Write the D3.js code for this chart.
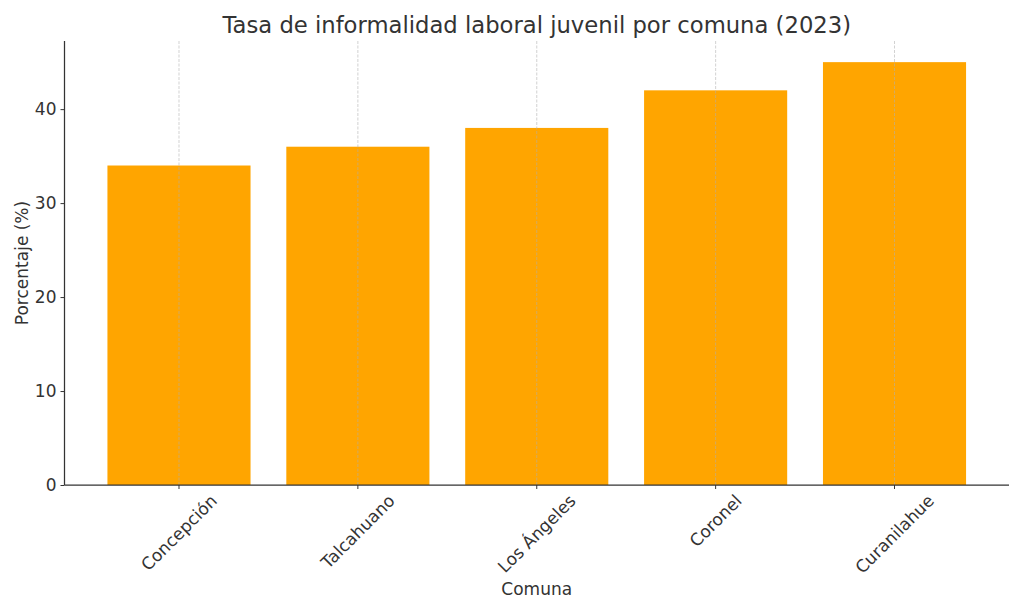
<!DOCTYPE html>
<html><head><meta charset="utf-8">
<script src="https://d3js.org/d3.v7.min.js"></script>
<style>body{margin:0;background:#fff}text{font-family:"DejaVu Sans",sans-serif;fill:#333}</style>
</head><body>
<svg id="c" width="1024" height="614"></svg>
<script>
const categories = ["Concepción","Talcahuano","Los Ángeles","Coronel","Curanilahue"];
const values = [34, 36, 38, 42, 45];
const yTicks = [0, 10, 20, 30, 40];
const title = "Tasa de informalidad laboral juvenil por comuna (2023)";
const xLabel = "Comuna";
const yLabel = "Porcentaje (%)";

const svg = d3.select("#c");
const L = 64.5, R = 1009, T = 41, B = 485;
const FS = 17;
const x = d3.scaleLinear().domain([-0.64, categories.length - 1 + 0.64]).range([L, R]);
const y = d3.scaleLinear().domain([0, d3.max(values) * 1.05]).range([B, T]);
const bw = x(0.8) - x(0);

svg.selectAll("rect.bar").data(values).join("rect").attr("class","bar")
  .attr("x", (d,i) => x(i) - bw/2).attr("width", bw)
  .attr("y", d => y(d)).attr("height", d => y(0) - y(d))
  .attr("fill", "#FFA500");

// vertical grid (drawn above bars)
svg.selectAll("line.grid").data(categories).join("line").attr("class","grid")
  .attr("x1", (d,i) => x(i)).attr("x2", (d,i) => x(i))
  .attr("y1", T).attr("y2", B)
  .attr("stroke", "#b0b0b0").attr("stroke-width", 0.8)
  .attr("stroke-dasharray", "3,1.5").attr("opacity", 0.7);

// y axis
const yAxis = d3.axisLeft(y).tickValues(yTicks).tickSize(4).tickPadding(4);
const gy = svg.append("g").attr("transform", `translate(${L},0)`).call(yAxis);
gy.select(".domain").attr("stroke", "#333").attr("stroke-width", 1.25).attr("d", `M0,${B}V${T}`);
gy.selectAll(".tick line").attr("stroke", "#333");
gy.selectAll(".tick text").attr("font-size", FS).attr("fill", "#333").style("font-family", "DejaVu Sans");

// x axis
const gx = svg.append("g").attr("transform", `translate(0,${B})`);
gx.append("line").attr("x1", L).attr("x2", R).attr("stroke", "#333").attr("stroke-width", 1.25);
gx.selectAll("line.tk").data(categories).join("line").attr("class","tk")
  .attr("x1", (d,i) => x(i)).attr("x2", (d,i) => x(i)).attr("y1", 0).attr("y2", 4).attr("stroke", "#333");
gx.selectAll("text.tl").data(categories).join("text").attr("class","tl")
  .attr("font-size", FS).attr("text-anchor", "middle").attr("dominant-baseline", "central")
  .text(d => d)
  .each(function(d, i) {
    const w = this.getComputedTextLength();
    const h = FS * 0.95;
    const half = (w + h) / (2 * Math.SQRT2);
    d3.select(this).attr("transform", `translate(${x(i)},${7 + half}) rotate(-45)`);
  });

svg.append("text").attr("x", (L + R) / 2).attr("y", 33).attr("text-anchor", "middle")
  .attr("font-size", 22.7).text(title);
svg.append("text").attr("x", (L + R) / 2).attr("y", 595).attr("text-anchor", "middle")
  .attr("font-size", FS).text(xLabel);
svg.append("text").attr("transform", `translate(28,${(T + B) / 2}) rotate(-90)`)
  .attr("text-anchor", "middle").attr("font-size", FS).text(yLabel);
</script>
</body></html>
